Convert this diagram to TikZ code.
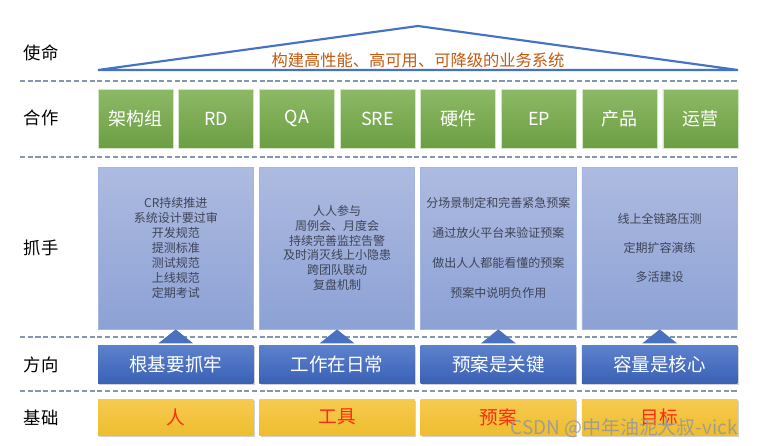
\documentclass[tikz,border=0pt]{standalone}
\usepackage{fontspec}
\setmainfont{Noto Sans CJK SC}
\usetikzlibrary{shadows}
\definecolor{roofblue}{HTML}{4472C4}
\definecolor{rooftext}{HTML}{C55A11}
\definecolor{dashgray}{HTML}{8497B0}
\definecolor{greentop}{HTML}{8DB966}
\definecolor{greenbot}{HTML}{6C9E43}
\definecolor{greenedge}{HTML}{D5E6C6}
\definecolor{paletop}{HTML}{AEBBE0}
\definecolor{palebot}{HTML}{8CA1D5}
\definecolor{paleedge}{HTML}{A3B5E2}
\definecolor{paletext}{HTML}{3E4457}
\definecolor{dirtop}{HTML}{5C82CE}
\definecolor{dirbot}{HTML}{3A61B4}
\definecolor{tricol}{HTML}{4A70C0}
\definecolor{yeltop}{HTML}{F6CA50}
\definecolor{yelbot}{HTML}{EEBE2E}
\definecolor{yeltext}{HTML}{FF2A10}
\tikzset{
  rowlabel/.style={font=\fontsize{13}{15}\selectfont, text=black},
  teambox/.style={rectangle, inner sep=0pt, minimum width=56.25pt, minimum height=44.25pt,
    top color=greentop, bottom color=greenbot, draw=greenedge, line width=0.5pt,
    text=white, font=\fontsize{13.5}{16}\selectfont},
  handbox/.style={rectangle, inner sep=0pt, minimum width=116.6pt, minimum height=121.5pt,
    top color=paletop, bottom color=palebot, draw=paleedge, line width=0.6pt,
    text=paletext, align=center},
  dirbox/.style={rectangle, inner sep=0pt, minimum width=116.6pt, minimum height=28.5pt,
    top color=dirtop, bottom color=dirbot, draw=none, text=white,
    font=\fontsize{13.9}{16}\selectfont,
    drop shadow={shadow xshift=1pt, shadow yshift=-1.5pt, opacity=0.35}},
  basebox/.style={rectangle, inner sep=0pt, minimum width=116.6pt, minimum height=27pt,
    top color=yeltop, bottom color=yelbot, draw=none, text=yeltext,
    font=\fontsize{14}{16}\selectfont,
    drop shadow={shadow xshift=1pt, shadow yshift=-1.5pt, opacity=0.35}},
  sepline/.style={draw=dashgray, line width=1.6pt, dash pattern=on 3.8pt off 2pt},
  uptri/.style={fill=tricol, draw=none},
}
\begin{document}
\begin{tikzpicture}[x=0.75pt, y=-0.75pt]
\useasboundingbox[fill=white] (0,0) rectangle (757,446);

% roof
\coordinate (rl) at (98,70);
\coordinate (ra) at (418,26);
\coordinate (rr) at (738,70);
\draw[roofblue, line width=1.6pt, line join=miter] (rl) -- (ra) -- (rr) -- cycle;
\node[text=rooftext, font=\fontsize{12.2}{14}\selectfont] (mission) at (418,60) {构建高性能、高可用、可降级的业务系统};

% separators
\coordinate (d1a) at (20,81);  \coordinate (d1b) at (738,81);
\coordinate (d2a) at (20,157); \coordinate (d2b) at (738,157);
\coordinate (d3a) at (20,337); \coordinate (d3b) at (738,337);
\coordinate (d4a) at (20,391); \coordinate (d4b) at (738,391);
\draw[sepline] (d1a) -- (d1b);
\draw[sepline] (d2a) -- (d2b);
\draw[sepline] (d3a) -- (d3b);
\draw[sepline] (d4a) -- (d4b);

% row labels
\node[rowlabel] (l1) at (41,53) {使命};
\node[rowlabel] (l2) at (41,118) {合作};
\node[rowlabel] (l3) at (41,248) {抓手};
\node[rowlabel] (l4) at (41,365) {方向};
\node[rowlabel] (l5) at (41,418) {基础};

% teams
\node[teambox] (g1) at (135.5,118.5) {架构组};
\node[teambox] (g2) at (216.2,118.5) {RD};
\node[teambox] (g3) at (296.9,118.5) {QA};
\node[teambox] (g4) at (377.6,118.5) {SRE};
\node[teambox] (g5) at (458.3,118.5) {硬件};
\node[teambox] (g6) at (539.0,118.5) {EP};
\node[teambox] (g7) at (619.7,118.5) {产品};
\node[teambox] (g8) at (700.4,118.5) {运营};

% handles
\node[handbox, font=\fontsize{9}{11.25}\selectfont] (b1) at (175.75,248)
  {CR持续推进\\系统设计要过审\\开发规范\\提测标准\\测试规范\\上线规范\\定期考试};
\node[handbox, font=\fontsize{9}{11}\selectfont] (b2) at (337.05,248)
  {人人参与\\周例会、月度会\\持续完善监控告警\\及时消灭线上小隐患\\跨团队联动\\复盘机制};
\node[handbox, font=\fontsize{9}{22.5}\selectfont] (b3) at (498.35,248)
  {分场景制定和完善紧急预案\\通过放火平台来验证预案\\做出人人都能看懂的预案\\预案中说明负作用};
\node[handbox, font=\fontsize{9}{21.5}\selectfont] (b4) at (659.65,248)
  {线上全链路压测\\定期扩容演练\\多活建设};

% directions
\node[dirbox] (r1) at (175.75,364) {根基要抓牢};
\node[dirbox] (r2) at (337.05,364) {工作在日常};
\node[dirbox] (r3) at (498.35,364) {预案是关键};
\node[dirbox] (r4) at (659.65,364) {容量是核心};

% arrows (triangles) from direction to handles
\foreach \b in {b1,b2,b3,b4}{
  \fill[uptri] (\b.south) -- ++(13.1pt,-10.5pt) -- ++(-26.2pt,0pt) -- cycle;
}

% bases
\node[basebox] (y1) at (175.75,417) {人};
\node[basebox] (y2) at (337.05,417) {工具};
\node[basebox] (y3) at (498.35,417) {预案};
\node[basebox] (y4) at (659.65,417) {目标};

% watermark
\node[text=black!40, opacity=0.9, font=\fontsize{14.2}{16}\selectfont] (wm) at (624,428) {CSDN @中年油泥大叔-vick};
\end{tikzpicture}
\end{document}
